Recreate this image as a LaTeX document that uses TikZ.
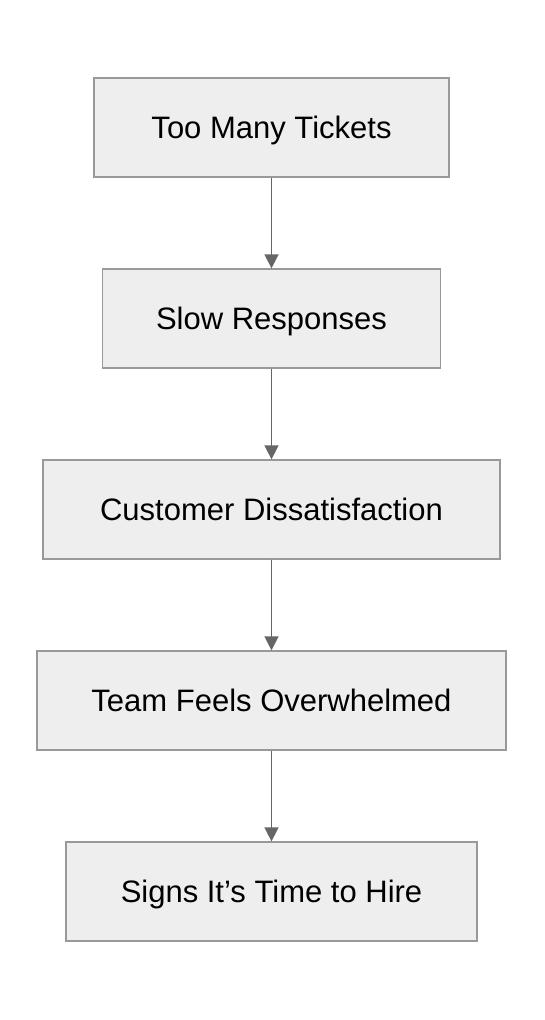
\documentclass[tikz,border=0pt]{standalone}
\usepackage{fontspec}
\setmainfont{Liberation Sans}
\usetikzlibrary{arrows.meta}
\definecolor{boxfill}{HTML}{EEEEEE}
\definecolor{boxline}{HTML}{999999}
\definecolor{arrowcol}{HTML}{666666}
\begin{document}
\begin{tikzpicture}[x=1pt,y=-1pt,
  stepbox/.style={draw=boxline,fill=boxfill,line width=1.3pt,inner sep=0pt,
    text height=22.2pt,text depth=0pt,font=\fontsize{31}{37}\selectfont},
  link/.style={draw=arrowcol,line width=1.6pt,-{Triangle[length=14pt,width=14pt]}}]
\useasboundingbox (0,0) rectangle (544,1020);
\node[stepbox,minimum width=355pt,minimum height=99pt] (a) at (271.5,127.5) {Too Many Tickets};
\node[stepbox,minimum width=338pt,minimum height=99pt] (b) at (271.5,318.5) {Slow Responses};
\node[stepbox,minimum width=457pt,minimum height=99pt] (c) at (271.5,509.5) {Customer Dissatisfaction};
\node[stepbox,minimum width=469pt,minimum height=99pt] (d) at (271.5,700.5) {Team Feels Overwhelmed};
\node[stepbox,minimum width=411pt,minimum height=99pt] (e) at (271.5,891.5) {Signs It’s Time to Hire};
\draw[link] (a.south) -- (b.north);
\draw[link] (b.south) -- (c.north);
\draw[link] (c.south) -- (d.north);
\draw[link] (d.south) -- (e.north);
\end{tikzpicture}
\end{document}
